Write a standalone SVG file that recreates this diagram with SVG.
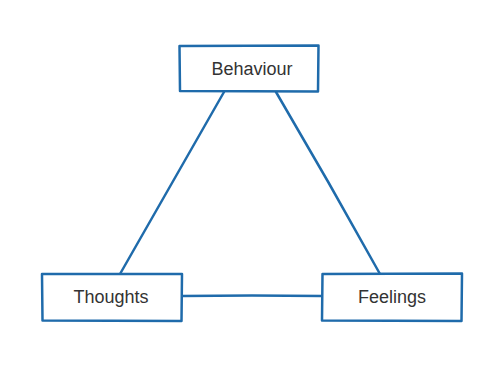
<svg xmlns="http://www.w3.org/2000/svg" width="500" height="371" viewBox="0 0 500 371">
<style>
.box{fill:#fff;stroke:#1f6bab;stroke-width:2.5;stroke-linejoin:round;stroke-linecap:round}
.edge{fill:none;stroke:#1f6bab;stroke-width:2.5;stroke-linecap:round}
.lbl{font-family:"Liberation Sans",Arial,sans-serif;font-size:18px;fill:#333;text-anchor:middle}
</style>
<rect width="500" height="371" fill="#fff"/>
<g id="connectors">
<path class="edge" d="M224,92 Q172,183 120,274"/>
<path class="edge" d="M276,92 Q329,182 380,274"/>
<path class="edge" d="M182,296 Q252,295 322,296"/>
</g>
<g id="behaviour">
<path class="box" d="M179.5,46 L318.5,45.5 L318,91.5 L180,91 Z"/>
<text class="lbl" x="252" y="75">Behaviour</text>
</g>
<g id="thoughts">
<path class="box" d="M42,274 L182,274 L181.5,321 L42.5,320.5 Z"/>
<text class="lbl" x="111" y="303">Thoughts</text>
</g>
<g id="feelings">
<path class="box" d="M322.5,274 L462,273.5 L461.5,321 L322,320.5 Z"/>
<text class="lbl" x="392" y="303">Feelings</text>
</g>
</svg>
